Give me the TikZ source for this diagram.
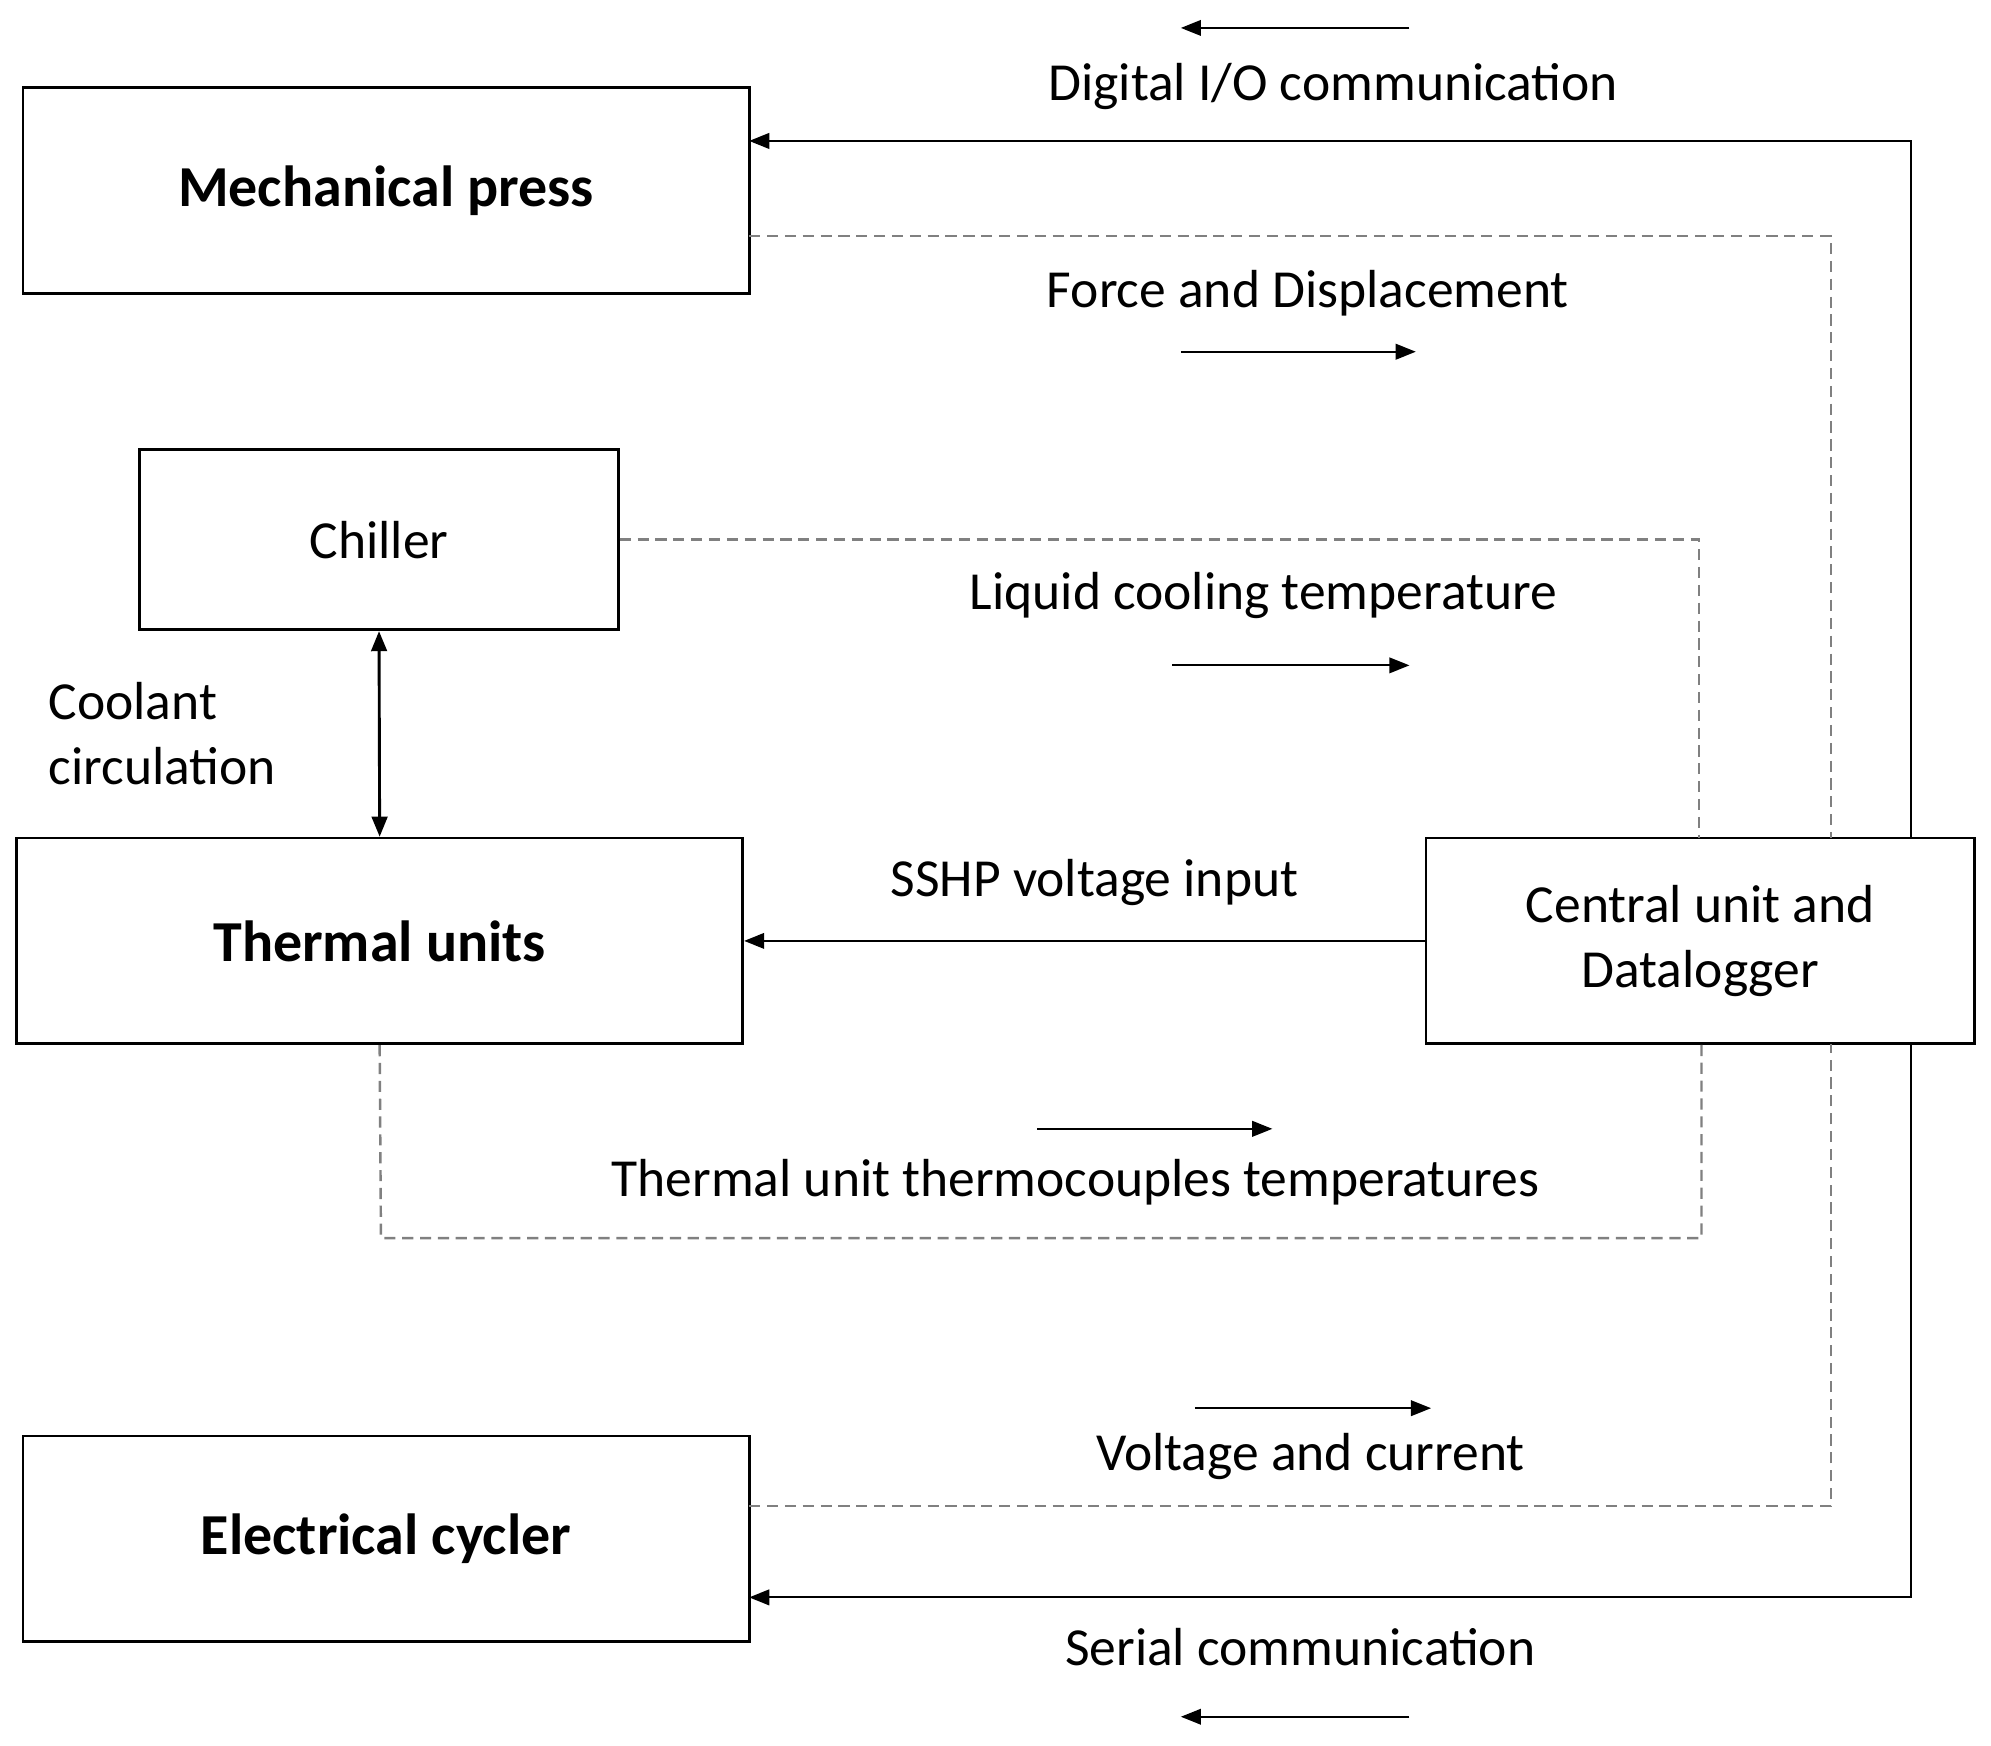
\documentclass[tikz,border=0pt]{standalone}
\usepackage{fontspec}
\setmainfont{Carlito}
\usetikzlibrary{arrows.meta}
\begin{document}
\begin{tikzpicture}[x=0.02cm,y=-0.02cm,
  box/.style={draw,line width=1.2pt,inner sep=0pt},
  lbl/.style={font=\fontsize{24}{29}\selectfont},
  ttl/.style={font=\fontsize{26}{31}\selectfont\bfseries},
  sol/.style={line width=0.9pt,-{Triangle[length=9pt,width=7pt]}},
  dsh/.style={draw=gray,line width=1.1pt,dash pattern=on 5pt off 3pt},
  sm/.style={line width=0.8pt,-{Triangle[length=9pt,width=7pt]}}]
\useasboundingbox (0,0) rectangle (1568,1375);
\node[box,minimum width=572*0.02cm,minimum height=162*0.02cm,ttl] (mp) at (304,150) {Mechanical press};
\node[box,minimum width=377*0.02cm,minimum height=142*0.02cm,lbl] (ch) at (298.5,425) {Chiller};
\node[box,minimum width=572*0.02cm,minimum height=162*0.02cm,ttl] (tu) at (299,741) {Thermal units};
\node[box,minimum width=572*0.02cm,minimum height=162*0.02cm,ttl] (ec) at (304,1212) {Electrical cycler};
\node[box,minimum width=432*0.02cm,minimum height=162*0.02cm,lbl,align=center] (cu) at (1339,741) {Central unit and\\Datalogger};
% solid
\coordinate (a1) at (1505,660); \coordinate (a2) at (1505,111); \coordinate (a3) at (590,111);
\draw[sol] (a1) -- (a2) -- (a3);
\coordinate (b1) at (1505,822); \coordinate (b2) at (1505,1258); \coordinate (b3) at (590,1258);
\draw[sol] (b1) -- (b2) -- (b3);
\draw[sol] (cu.west) -- (tu.east);
\draw[line width=1.3pt,{Triangle[length=9pt,width=7pt]}-{Triangle[length=9pt,width=7pt]}] (ch.south) -- (tu.north);
% dashed
\coordinate (c1) at (590,186); \coordinate (c2) at (1442,186); \coordinate (c3) at (1442,660);
\draw[dsh] (c1) -- (c2) -- (c3);
\coordinate (d2) at (1338,425); \coordinate (d3) at (1338,660);
\draw[dsh] (ch.east) -- (d2) -- (d3);
\coordinate (e2) at (300,975); \coordinate (e3) at (1340,975); \coordinate (e4) at (1340,822);
\draw[dsh] (tu.south) -- (e2) -- (e3) -- (e4);
\coordinate (f1) at (590,1186); \coordinate (f2) at (1442,1186); \coordinate (f3) at (1442,822);
\draw[dsh] (f1) -- (f2) -- (f3);
% small arrows
\coordinate (s1a) at (1110,22); \coordinate (s1b) at (930,22); \draw[sm] (s1a) -- (s1b);
\coordinate (s2a) at (930,277); \coordinate (s2b) at (1115,277); \draw[sm] (s2a) -- (s2b);
\coordinate (s3a) at (923,524); \coordinate (s3b) at (1110,524); \draw[sm] (s3a) -- (s3b);
\coordinate (s4a) at (817,889); \coordinate (s4b) at (1002,889); \draw[sm] (s4a) -- (s4b);
\coordinate (s5a) at (941,1109); \coordinate (s5b) at (1127,1109); \draw[sm] (s5a) -- (s5b);
\coordinate (s6a) at (1110,1352); \coordinate (s6b) at (930,1352); \draw[sm] (s6a) -- (s6b);
% labels
\node[lbl] (l1) at (1050,68) {Digital I/O communication};
\node[lbl] (l2) at (1030,231) {Force and Displacement};
\node[lbl] (l3) at (995,469) {Liquid cooling temperature};
\node[lbl,align=left,anchor=west] (l4) at (32,578) {Coolant\\circulation};
\node[lbl] (l5) at (862,695) {SSHP voltage input};
\node[lbl] (l6) at (847,931) {Thermal unit thermocouples temperatures};
\node[lbl] (l7) at (1032,1147) {Voltage and current};
\node[lbl] (l8) at (1024,1297) {Serial communication};
\end{tikzpicture}
\end{document}
